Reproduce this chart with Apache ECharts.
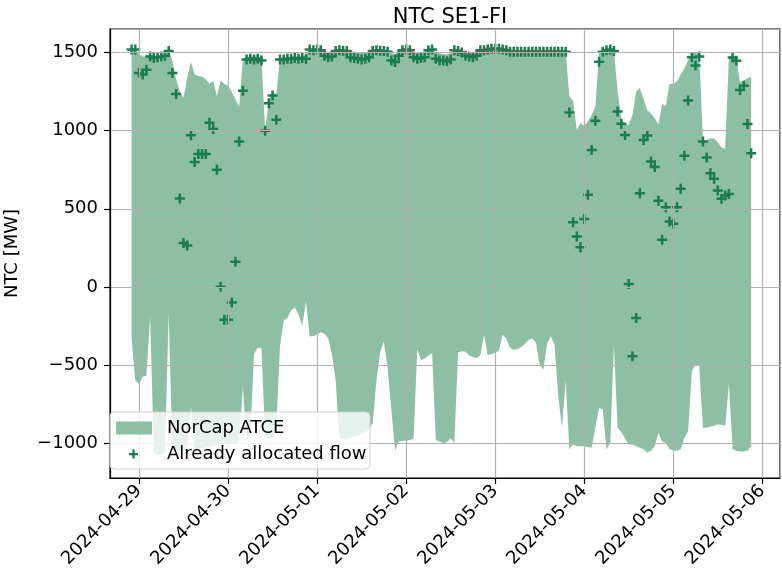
<!DOCTYPE html>
<html>
<head>
<meta charset="utf-8">
<script src="https://cdn.jsdelivr.net/npm/echarts@6/dist/echarts.min.js"></script>
<style>
  html, body { margin: 0; padding: 0; background: #fff; }
  #chart { width: 782px; height: 574px; }
</style>
</head>
<body>
<div id="chart"></div>
<script>
// hourly values, first hour 2024-04-28 22:00, last 2024-05-05 21:00
const startTime = new Date(2024, 3, 28, 22, 0, 0).getTime()

// NorCap ATCE upper bound [MW]
const atceUpper = [
  1520, 1520, 1490, 1475, 1475, 1470, 1470, 1475, 1480, 1500, 1520, 1450,
  1330, 1250, 1210, 1340, 1440, 1360, 1350, 1345, 1330, 1300, 1320, 1220,
  1320, 1300, 1290, 1250, 1200, 1155, 1460, 1475, 1475, 1475, 1475, 1470,
  1000, 1200, 1250, 1230, 1460, 1470, 1470, 1475, 1475, 1475, 1480, 1480,
  1525, 1520, 1525, 1520, 1510, 1505, 1505, 1515, 1520, 1520, 1515, 1510,
  1505, 1500, 1500, 1500, 1505, 1515, 1520, 1515, 1515, 1510, 1500, 1490,
  1505, 1520, 1525, 1520, 1505, 1500, 1500, 1505, 1520, 1525, 1500, 1495,
  1490, 1490, 1495, 1520, 1515, 1510, 1505, 1500, 1500, 1505, 1520, 1525,
  1525, 1530, 1530, 1530, 1525, 1520, 1510, 1510, 1510, 1510, 1510, 1510,
  1510, 1510, 1510, 1510, 1510, 1510, 1510, 1510, 1510, 1505, 1220, 1190,
  1005, 1050, 1030, 1060, 1100, 1155, 1500, 1520, 1520, 1520, 1520, 1250,
  1080, 1040, 1040, 1100, 1250, 1275, 1200, 1130, 1110, 1080, 1040, 1170,
  1160, 1300, 1300, 1315, 1360, 1400, 1450, 1495, 1500, 1500, 941, 941,
  952, 950, 926, 892, 884, 1475, 1480, 1460, 1310, 1320, 1335, 1345
]

// NorCap ATCE lower bound [MW]
const atceLower = [
  -330, -600, -620, -575, -570, -190, -1060, -1075, -1075, -1060, -170, -1040,
  -1050, -1050, -1050, -1040, -770, -1040, -1040, -1030, -1030, -1020, -1020, -1010,
  -1000, -1000, -1000, -1000, -1000, -990, -640, -990, -960, -430, -390, -390,
  -960, -970, -970, -900, -380, -215, -200, -150, -133, -175, -250, -92,
  -316, -316, -305, -290, -300, -330, -430, -600, -960, -975, -970, -965,
  -960, -950, -945, -930, -915, -870, -600, -420, -350, -520, -780, -1050,
  -990, -985, -985, -980, -975, -400, -470, -460, -440, -423, -980, -990,
  -1000, -995, -970, -1000, -420, -412, -415, -440, -450, -455, -440, -306,
  -440, -430, -423, -410, -306, -330, -390, -402, -400, -385, -365, -340,
  -330, -360, -500, -530, -360, -316, -370, -700, -900, -600, -1040, -1010,
  -1020, -1020, -1020, -1025, -1030, -900, -775, -785, -1040, -1000, -370, -903,
  -930, -970, -1010, -1010, -1020, -1030, -1040, -1060, -1050, -1020, -935, -990,
  -1000, -1040, -1050, -1050, -1040, -967, -924, -540, -498, -510, -903, -903,
  -895, -890, -880, -885, -890, -620, -1040, -1050, -1055, -1055, -1050, -1020
]

// already allocated flow [MW]
const allocatedFlow = [
  1520, 1520, 1370, 1360, 1390, 1475, 1465, 1470, 1475, 1480, 1510, 1370,
  1235, 565, 280, 265, 970, 800, 850, 850, 850, 1050, 1010, 750,
  0, -210, -210, -100, 160, 930, 1255, 1455, 1460, 1455, 1460, 1450,
  1000, 1175, 1225, 1070, 1455, 1455, 1460, 1460, 1465, 1460, 1465, 1460,
  1520, 1515, 1520, 1515, 1480, 1470, 1475, 1510, 1515, 1512, 1510, 1470,
  1465, 1460, 1455, 1460, 1470, 1510, 1515, 1512, 1510, 1505, 1450, 1440,
  1480, 1515, 1520, 1515, 1470, 1460, 1465, 1470, 1515, 1520, 1460, 1450,
  1450, 1445, 1455, 1515, 1510, 1500, 1480, 1475, 1470, 1480, 1515, 1515,
  1520, 1525, 1525, 1525, 1520, 1515, 1505, 1505, 1505, 1505, 1505, 1505,
  1505, 1505, 1505, 1505, 1505, 1505, 1505, 1505, 1505, 1505, 1116, 413,
  323, 253, 434, 590, 877, 1063, 1442, 1505, 1515, 1520, 1510, 1122,
  1044, 973, 18, -444, -199, 600, 941, 969, 803, 767, 551, 302,
  509, 419, 404, 509, 628, 839, 1193, 1470, 1417, 1475, 931, 828,
  728, 692, 617, 564, 585, 594, 1468, 1447, 1261, 1287, 1042, 856
]

const yTicks = [-1000, -500, 0, 500, 1000, 1500]

const HOUR = 3600 * 1000
const times = atceUpper.map((v, i) => startTime + i * HOUR)
// visible time range of the axes
const xMin = new Date(2024, 3, 28, 16, 11).getTime()
const xMax = new Date(2024, 4, 6, 4, 46).getTime()

const bandColor = '#8dbfa5'
const flowColor = '#1b7d4f'
const font = 'DejaVu Sans'
const plusPath = 'path://M3.75,0h2.5v3.75h3.75v2.5h-3.75v3.75h-2.5v-3.75h-3.75v-2.5h3.75z'

function fmtDate (v) {
  const d = new Date(v)
  if (d.getHours() !== 0 || d.getMinutes() !== 0) return ''
  const mm = String(d.getMonth() + 1).padStart(2, '0')
  const dd = String(d.getDate()).padStart(2, '0')
  return d.getFullYear() + '-' + mm + '-' + dd
}

const chart = echarts.init(document.getElementById('chart'), null, { renderer: 'canvas' })

chart.setOption({
  animation: false,
  backgroundColor: '#fff',
  title: {
    text: 'NTC SE1-FI',
    left: 445,
    top: 2,
    textAlign: 'center',
    textStyle: { fontFamily: font, fontSize: 21, fontWeight: 'normal', color: '#000' }
  },
  grid: {
    left: 110,
    right: 2,
    top: 29,
    bottom: 96,
    outerBoundsMode: 'none',
    show: true,
    borderColor: '#000',
    borderWidth: 1.2,
    backgroundColor: 'transparent'
  },
  graphic: [{
    type: 'rect',
    z: 50,
    shape: { x: 110, y: 412, width: 260, height: 57, r: 4 },
    style: { fill: 'rgba(255,255,255,0.8)', stroke: '#d0d0d0', lineWidth: 1 }
  }],
  legend: [{
    z: 60,
    left: 116,
    top: 419,
    padding: 0,
    itemWidth: 36,
    itemHeight: 13,
    data: [{ name: 'NorCap ATCE', icon: 'rect' }],
    textStyle: { fontFamily: font, fontSize: 18, color: '#000', padding: [0, 0, 0, 10] }
  }, {
    z: 60,
    left: 129,
    top: 445,
    padding: 0,
    itemWidth: 9,
    itemHeight: 9,
    data: [{ name: 'Already allocated flow', icon: plusPath }],
    textStyle: { fontFamily: font, fontSize: 18, color: '#000', padding: [0, 0, 0, 24] }
  }],
  xAxis: {
    type: 'time',
    z: 3,
    min: xMin,
    max: xMax,
    minInterval: 24 * HOUR,
    maxInterval: 24 * HOUR,
    axisLine: { onZero: false, lineStyle: { color: '#000', width: 1.2 } },
    axisTick: { show: true, length: 6, lineStyle: { color: '#000', width: 1.2 } },
    axisLabel: {
      rotate: 45,
      margin: 10,
      fontFamily: font,
      fontSize: 18,
      color: '#000',
      showMinLabel: false,
      showMaxLabel: false,
      formatter: fmtDate
    },
    splitLine: { show: true, lineStyle: { color: '#b0b0b0', width: 1.2 } }
  },
  yAxis: {
    type: 'value',
    z: 3,
    min: -1224,
    max: 1651,
    name: 'NTC [MW]',
    nameLocation: 'middle',
    nameGap: 89,
    nameTextStyle: { fontFamily: font, fontSize: 18, color: '#000' },
    axisLine: { show: true, onZero: false, lineStyle: { color: '#000', width: 1.2 } },
    axisTick: { show: true, length: 6, lineStyle: { color: '#000', width: 1.2 } },
    axisLabel: {
      margin: 12,
      fontFamily: font,
      fontSize: 18,
      color: '#000',
      showMinLabel: false,
      showMaxLabel: false,
      formatter: v => yTicks.includes(v) ? String(v).replace('-', '\u2212') : ''
    },
    splitLine: { show: true, lineStyle: { color: '#b0b0b0', width: 1.2 } }
  },
  series: [
    {
      name: 'lower',
      type: 'line',
      z: 1,
      stack: 'atce',
      stackStrategy: 'all',
      symbol: 'none',
      lineStyle: { opacity: 0 },
      data: times.map((t, i) => [t, atceLower[i]])
    },
    {
      name: 'NorCap ATCE',
      type: 'line',
      z: 1,
      stack: 'atce',
      stackStrategy: 'all',
      symbol: 'none',
      lineStyle: { width: 0, color: bandColor },
      itemStyle: { color: bandColor },
      areaStyle: { color: bandColor, opacity: 1 },
      data: times.map((t, i) => [t, atceUpper[i] - atceLower[i]])
    },
    {
      name: 'Already allocated flow',
      type: 'scatter',
      z: 2,
      symbol: plusPath,
      symbolSize: 10,
      itemStyle: { color: flowColor, opacity: 1 },
      data: times.map((t, i) => [t, allocatedFlow[i]])
    }
  ]
})
</script>
</body>
</html>
